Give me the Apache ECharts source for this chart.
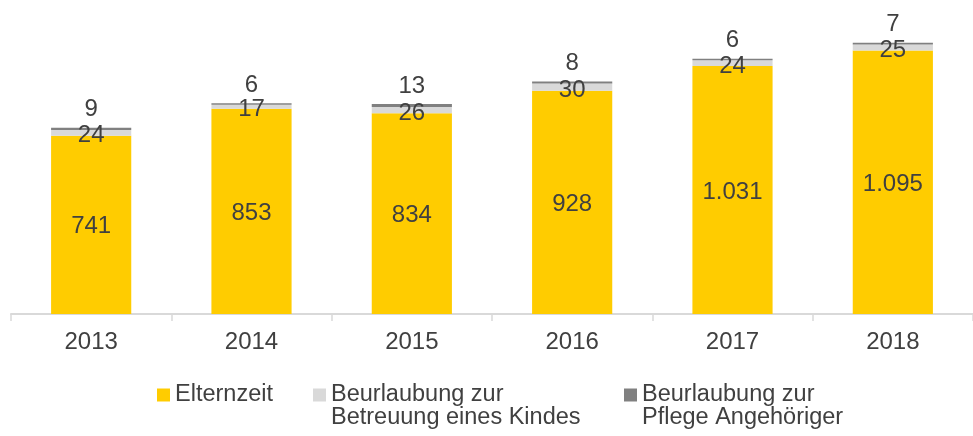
<!DOCTYPE html>
<html>
<head>
<meta charset="utf-8">
<script src="https://cdn.jsdelivr.net/npm/echarts@6/dist/echarts.min.js"></script>
<style>
  html, body { margin: 0; padding: 0; background: #fff; }
  #main { width: 973px; height: 436px; }
</style>
</head>
<body>
<div id="main"></div>
<script>
var years = ['2013', '2014', '2015', '2016', '2017', '2018'];
var elternzeit = [741, 853, 834, 928, 1031, 1095];
var betreuung = [24, 17, 26, 30, 24, 25];
var pflege = [9, 6, 13, 8, 6, 7];

var names = ['Elternzeit', 'Beurlaubung zur Betreuung eines Kindes', 'Beurlaubung zur Pflege Angehöriger'];
// legend text, an empty first line keeps the first real line level with the square
var legendText = {
    'Elternzeit': 'Elternzeit',
    'Beurlaubung zur Betreuung eines Kindes': '\nBeurlaubung zur\nBetreuung eines Kindes',
    'Beurlaubung zur Pflege Angehöriger': '\nBeurlaubung zur\nPflege Angehöriger'
};
var colors = ['#FFCC00', '#D9D9D9', '#808080'];
var textColor = '#404040';
var font = 'Arial, "Liberation Sans", sans-serif';

// 1031 -> "1.031"
function fmt(v) {
    return String(v).replace(/\B(?=(\d{3})+(?!\d))/g, '.');
}

var myChart = echarts.init(document.getElementById('main'));

function legendAt(i, left, top) {
    return {
        data: [{ name: names[i], icon: 'rect' }],
        left: left,
        top: top,
        padding: 0,
        itemWidth: 13,
        itemHeight: 13,
        selectedMode: false,
        formatter: function (name) { return legendText[name]; },
        textStyle: {
            color: textColor,
            fontFamily: font,
            fontSize: 23.5,
            lineHeight: 23
        }
    };
}

var option = {
    animation: false,
    grid: {
        left: 11,
        width: 973,
        top: 13.25,
        bottom: 122
    },
    legend: [
        legendAt(0, 157, 383),
        legendAt(1, 313, 360),
        legendAt(2, 624, 360)
    ],
    xAxis: {
        type: 'category',
        data: years,
        axisLine: { lineStyle: { color: '#D9D9D9', width: 2 } },
        axisTick: { show: true, length: 7, lineStyle: { color: '#D9D9D9', width: 1.5 } },
        axisLabel: {
            color: textColor,
            fontFamily: font,
            fontSize: 24,
            margin: 16
        }
    },
    yAxis: {
        type: 'value',
        min: 0,
        max: 1250,
        show: false,
        splitLine: { show: false }
    },
    series: [
        {
            name: names[0],
            type: 'bar',
            stack: 'total',
            barWidth: '50%',
            data: elternzeit,
            itemStyle: { color: colors[0] },
            label: {
                show: true,
                position: 'inside',
                offset: [0, 2],
                color: textColor,
                fontFamily: font,
                fontSize: 24,
                formatter: function (p) { return fmt(p.value); }
            }
        },
        {
            name: names[1],
            type: 'bar',
            stack: 'total',
            data: betreuung,
            itemStyle: { color: colors[1] },
            label: {
                show: true,
                position: 'inside',
                offset: [0, 3],
                color: textColor,
                fontFamily: font,
                fontSize: 24
            }
        },
        {
            name: names[2],
            type: 'bar',
            stack: 'total',
            data: pflege,
            itemStyle: { color: colors[2] },
            label: {
                show: true,
                position: 'top',
                distance: 6,
                color: textColor,
                fontFamily: font,
                fontSize: 24
            }
        }
    ]
};

myChart.setOption(option);
</script>
</body>
</html>
